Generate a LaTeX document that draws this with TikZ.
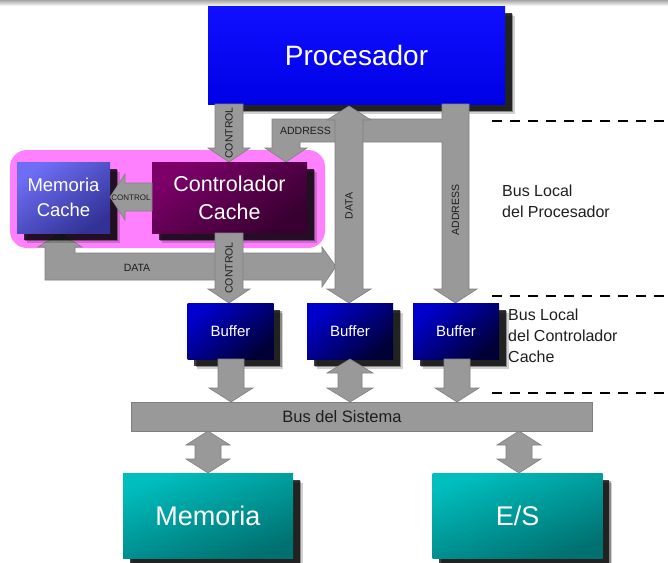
\documentclass[tikz,border=0pt]{standalone}
\usepackage{fontspec}
\setmainfont{Liberation Sans}
\usetikzlibrary{shadows}

\definecolor{procblue}{RGB}{0,0,255}
\definecolor{bufhi}{RGB}{0,0,205}
\definecolor{buflo}{RGB}{0,0,55}
\definecolor{mchi}{RGB}{110,110,245}
\definecolor{mclo}{RGB}{50,50,150}
\definecolor{cthi}{RGB}{125,0,105}
\definecolor{ctlo}{RGB}{55,0,48}
\definecolor{tealhi}{RGB}{0,190,190}
\definecolor{tealmid}{RGB}{0,148,148}
\definecolor{teallo}{RGB}{0,112,112}
\definecolor{pinkbg}{RGB}{255,128,255}
\definecolor{busgray}{RGB}{153,153,153}
\definecolor{busedge}{RGB}{128,128,128}
\definecolor{labeldark}{RGB}{30,30,30}

\tikzset{
  % layered drop shadow, dark core with softer outer rims
  shadowed/.style={
      general shadow={shadow xshift=9.5pt, shadow yshift=-9.5pt, fill=black, opacity=0.18},
      general shadow={shadow xshift=8pt, shadow yshift=-8pt, fill=black, opacity=0.35},
      general shadow={shadow xshift=6.5pt, shadow yshift=-6.5pt, fill=black, opacity=0.75}},
  unit/.style={shadowed, rectangle, inner sep=0pt, text=white, align=center},
  buffer/.style={unit, minimum width=86pt, minimum height=56pt,
      top color=bufhi, bottom color=buflo, shading angle=40,
      font=\fontsize{15}{18}\selectfont},
  device/.style={unit, minimum width=170pt, minimum height=85pt,
      top color=tealhi, middle color=tealmid, bottom color=teallo, shading angle=20,
      font=\fontsize{27}{30}\selectfont},
  busarrow/.style={fill=busgray, draw=busedge, line width=0.6pt, line join=miter},
  buslabel/.style={text=labeldark, inner sep=0pt, font=\fontsize{10.5}{12}\selectfont},
  sidelabel/.style={text=labeldark, align=left, anchor=west, inner sep=0pt,
      font=\fontsize{16}{21}\selectfont},
  levelline/.style={dashed, dash pattern=on 10pt off 8pt, line width=1.4pt, black}
}

\begin{document}
\begin{tikzpicture}[x=1pt, y=-1pt]
\useasboundingbox (0,0) rectangle (668,562);

% thin grey rule along the top edge
\shade[top color=black!35, bottom color=white] (0,0) rectangle (668,6);

% level separators on the right
\coordinate (l1a) at (492,121); \coordinate (l1b) at (668,121);
\coordinate (l2a) at (492,296); \coordinate (l2b) at (668,296);
\coordinate (l3a) at (492,393); \coordinate (l3b) at (668,393);
\draw[levelline] (l1a) -- (l1b);
\draw[levelline] (l2a) -- (l2b);
\draw[levelline] (l3a) -- (l3b);

\node[sidelabel] (lp) at (502,201) {Bus Local\\del Procesador};
\node[sidelabel] (lc) at (508,336) {Bus Local\\del Controlador\\Cache};

% cache subsystem background
\node[fill=pinkbg, rounded corners=17pt, minimum width=315pt, minimum height=98pt,
      inner sep=0pt] (cachebg) at (167.5,199) {};

% processor
\node[unit, minimum width=297pt, minimum height=98pt,
      top color=procblue!94!white, middle color=procblue, bottom color=procblue!90!black,
      font=\fontsize{28}{30}\selectfont] (proc) at (356.5,55) {Procesador};

% local data path from the cache memory to the processor data bus
\draw[busarrow] (60,233) -- (82,247) -- (75,247) -- (75,253) -- (322,253) -- (322,247)
   -- (336,266.5) -- (322,287) -- (322,280) -- (45,280) -- (45,247) -- (38,247) -- cycle;
\node[buslabel] (dlab) at (137,268) {DATA};

% address bus with the branch to the cache controller
\draw[busarrow] (442,104) -- (469,104) -- (469,289) -- (477,289) -- (455.5,303)
   -- (434,289) -- (442,289) -- (442,142) -- (300,142) -- (300,148) -- (307,148)
   -- (286,162) -- (265,148) -- (272,148) -- (272,119) -- (442,119) -- cycle;
\node[buslabel] (alab) at (305.5,130.5) {ADDRESS};
\node[buslabel, rotate=90] (alab2) at (455.5,210) {ADDRESS};

% data bus (bidirectional)
\draw[busarrow] (349,106) -- (371,120) -- (363,120) -- (363,289) -- (371,289)
   -- (349,303) -- (327,289) -- (335,289) -- (335,120) -- (327,120) -- cycle;
\node[buslabel, rotate=90] (dlab2) at (349,206) {DATA};

% control from the processor to the controller
\draw[busarrow] (215,104) -- (243,104) -- (243,148) -- (250,148) -- (229,162)
   -- (208,148) -- (215,148) -- cycle;
\node[buslabel, rotate=90] (clab1) at (229,133) {CONTROL};

% cache memory and its controller
\node[unit, minimum width=93pt, minimum height=71pt,
      top color=mchi, bottom color=mclo, shading angle=35,
      font=\fontsize{18.5}{25}\selectfont] (mcache) at (63.5,197.5) {Memoria\\Cache};
\node[unit, minimum width=155pt, minimum height=71pt,
      top color=cthi, bottom color=ctlo, shading angle=35,
      font=\fontsize{21.5}{28}\selectfont] (ctrl) at (229.5,197.5) {Controlador\\Cache};

% control from the controller to the cache memory
\draw[busarrow] (152,183) -- (152,211) -- (125,211) -- (125,220) -- (110,197)
   -- (125,174) -- (125,183) -- cycle;
\node[text=labeldark, inner sep=0pt, font=\fontsize{8}{9}\selectfont] (clab2) at (131,197.5) {CONTROL};

% control from the controller down to the first buffer
\draw[busarrow] (215,233) -- (243,233) -- (243,289) -- (250,289) -- (229,303)
   -- (208,289) -- (215,289) -- cycle;
\node[buslabel, rotate=90] (clab3) at (229,268) {CONTROL};

% buffers
\node[buffer] (b1) at (230.5,331) {Buffer};
\node[buffer] (b2) at (350,331) {Buffer};
\node[buffer] (b3) at (456,331) {Buffer};

% system bus
\node[busarrow, minimum width=461pt, minimum height=29pt, inner sep=0pt] (bus) at (361.5,416.5) {};
\node[text=labeldark, inner sep=0pt, font=\fontsize{16.5}{18}\selectfont] (buslab) at (342,417) {Bus del Sistema};

% buffers to the system bus
\draw[busarrow] (218,359) -- (244,359) -- (244,388) -- (253,388) -- (231,402)
   -- (209,388) -- (218,388) -- cycle;
\draw[busarrow] (350,359) -- (373,373) -- (362,373) -- (362,388) -- (373,388)
   -- (350,402) -- (327,388) -- (338,388) -- (338,373) -- (327,373) -- cycle;
\draw[busarrow] (444,359) -- (470,359) -- (470,388) -- (479,388) -- (457,402)
   -- (435,388) -- (444,388) -- cycle;

% system bus to memory and I/O
\draw[busarrow] (208,431) -- (230,445) -- (221,445) -- (221,459) -- (230,459)
   -- (208,473) -- (186,459) -- (195,459) -- (195,445) -- (186,445) -- cycle;
\draw[busarrow] (519,431) -- (541,445) -- (532,445) -- (532,459) -- (541,459)
   -- (519,473) -- (497,459) -- (506,459) -- (506,445) -- (497,445) -- cycle;

\node[device] (mem) at (208,515.5) {Memoria};
\node[device] (es) at (517.5,515.5) {E/S};
\end{tikzpicture}
\end{document}
